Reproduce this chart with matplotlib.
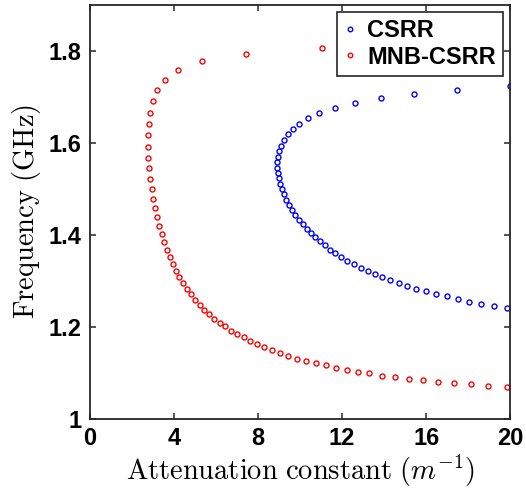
import numpy as np
import matplotlib
matplotlib.use("Agg")
import matplotlib.pyplot as plt

plt.rcParams["mathtext.fontset"] = "cm"

# Attenuation constant (1/m) and frequency (GHz), CSRR
csrr_alpha = [19.97, 17.46, 15.41, 13.84, 12.60, 11.67, 10.92, 10.40, 9.97, 9.65,
              9.41, 9.22, 9.10, 9.02, 8.97, 8.92, 8.92, 8.95, 9.00, 9.06,
              9.13, 9.22, 9.35, 9.48, 9.62, 9.78, 9.94, 10.13, 10.33, 10.54,
              10.73, 10.95, 11.19, 11.43, 11.68, 11.97, 12.25, 12.57, 12.89, 13.21,
              13.56, 13.92, 14.30, 14.70, 15.11, 15.54, 16.00, 16.48, 16.97, 17.51,
              18.03, 18.62, 19.22, 19.84]
csrr_freq = [1.723, 1.715, 1.706, 1.697, 1.687, 1.676, 1.666, 1.655, 1.642, 1.631,
             1.619, 1.607, 1.594, 1.582, 1.570, 1.558, 1.546, 1.534, 1.523, 1.511,
             1.499, 1.488, 1.476, 1.465, 1.454, 1.444, 1.433, 1.423, 1.413, 1.403,
             1.395, 1.386, 1.377, 1.368, 1.360, 1.352, 1.344, 1.336, 1.329, 1.322,
             1.315, 1.308, 1.301, 1.295, 1.288, 1.283, 1.277, 1.271, 1.266, 1.261,
             1.255, 1.250, 1.245, 1.240]

# MNB-CSRR
mnb_alpha = [11.03, 7.43, 5.33, 4.21, 3.59, 3.21, 2.98, 2.87, 2.81, 2.78,
             2.78, 2.78, 2.83, 2.87, 2.94, 3.02, 3.11, 3.19, 3.30, 3.41,
             3.54, 3.67, 3.79, 3.94, 4.11, 4.25, 4.44, 4.62, 4.83, 5.02,
             5.22, 5.44, 5.68, 5.92, 6.17, 6.44, 6.73, 7.01, 7.32, 7.63,
             7.97, 8.30, 8.67, 9.05, 9.44, 9.86, 10.29, 10.75, 11.21, 11.70,
             12.21, 12.75, 13.30, 13.90, 14.52, 15.18, 15.86, 16.57, 17.33, 18.13,
             18.95, 19.84]
mnb_freq = [1.806, 1.793, 1.777, 1.758, 1.737, 1.715, 1.691, 1.666, 1.641, 1.617,
            1.592, 1.568, 1.545, 1.522, 1.500, 1.478, 1.458, 1.438, 1.419, 1.401,
            1.384, 1.368, 1.352, 1.336, 1.322, 1.308, 1.295, 1.282, 1.271, 1.259,
            1.248, 1.237, 1.227, 1.218, 1.209, 1.201, 1.192, 1.184, 1.177, 1.169,
            1.163, 1.156, 1.150, 1.143, 1.137, 1.131, 1.126, 1.121, 1.116, 1.111,
            1.107, 1.102, 1.099, 1.094, 1.091, 1.087, 1.084, 1.081, 1.077, 1.075,
            1.071, 1.069]

x_ticks = [0, 4, 8, 12, 16, 20]
y_ticks = [1, 1.2, 1.4, 1.6, 1.8]
y_tick_labels = ["1", "1.2", "1.4", "1.6", "1.8"]

axis_color = "#262626"

fig = plt.figure(figsize=(5.26, 4.91), dpi=100)
ax = fig.add_axes([0.171, 0.147, 0.799, 0.843])

marker_style = dict(linestyle="none", marker="o", markersize=3.6,
                    markerfacecolor="none", markeredgewidth=1.0)
ax.plot(csrr_alpha, csrr_freq, color=(0, 0, 1), label="CSRR", **marker_style)
ax.plot(mnb_alpha, mnb_freq, color=(1, 0, 0), label="MNB-CSRR", **marker_style)

ax.set_xlim(0, 20)
ax.set_ylim(1, 1.9)
ax.set_xticks(x_ticks)
ax.set_yticks(y_ticks)
ax.set_yticklabels(y_tick_labels)

for spine in ax.spines.values():
    spine.set_color(axis_color)
    spine.set_linewidth(1.3)
ax.tick_params(direction="in", length=4, width=1.1, color=axis_color,
               top=True, right=True, labelcolor="black", pad=6)
for lbl in ax.get_xticklabels() + ax.get_yticklabels():
    lbl.set_fontfamily("Liberation Sans")
    lbl.set_fontweight("bold")
    lbl.set_fontsize(17)

ax.set_xlabel(r"$\mathrm{Attenuation\ constant\ }(m^{-1})$", fontsize=20.5, labelpad=2)
ax.set_ylabel(r"$\mathrm{Frequency\ (GHz)}$", fontsize=20.5, labelpad=4)

leg = ax.legend(loc="upper right", fancybox=False, framealpha=1,
                edgecolor=axis_color, handlelength=0.55, handletextpad=0.45,
                borderpad=0.3, labelspacing=0.15, borderaxespad=0.3,
                markerscale=0.9,
                prop={"family": "Liberation Sans", "weight": "bold", "size": 17})
leg.get_frame().set_linewidth(1.2)

fig.savefig("out.png", dpi=100)
plt.close(fig)
